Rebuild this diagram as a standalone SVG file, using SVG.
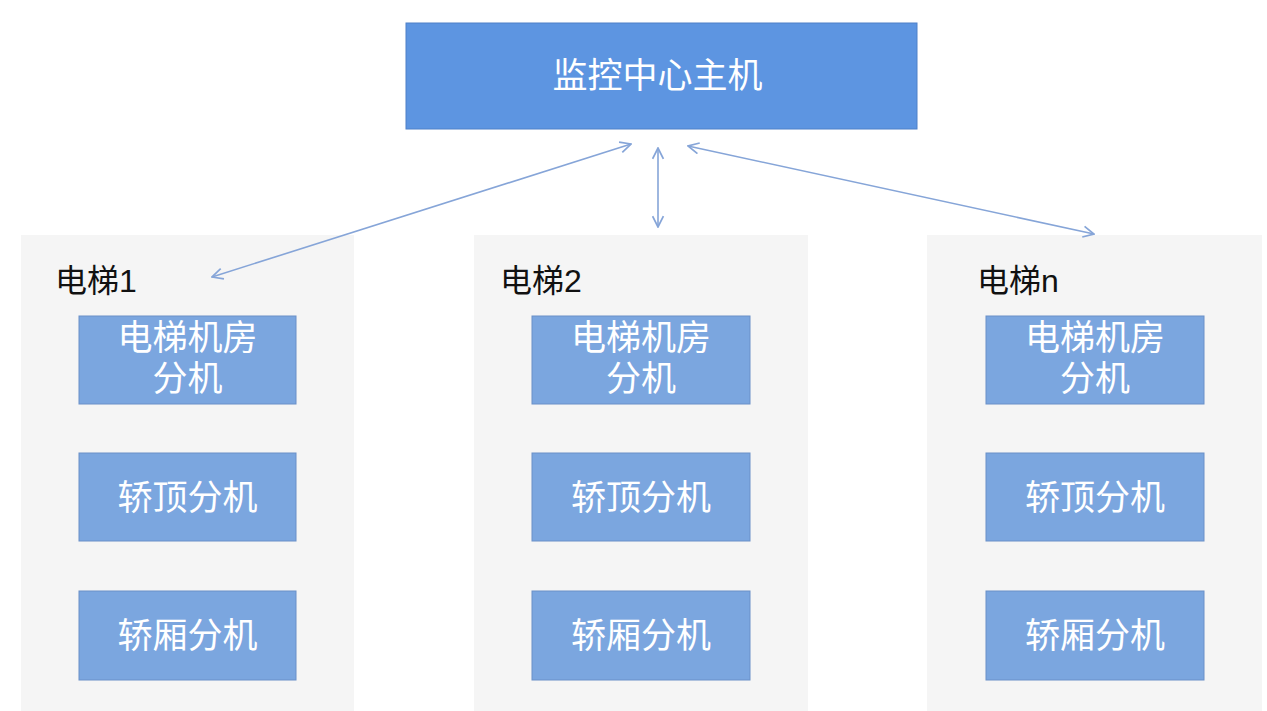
<svg xmlns="http://www.w3.org/2000/svg" width="1267" height="711" viewBox="0 0 1267 711">
<style>
.panel{fill:#F5F5F5}
.top{fill:#5D95E1;stroke:#4F80C8;stroke-width:1}
.sub{fill:#7BA6DF;stroke:#6A90C8;stroke-width:1}
.wt{fill:#FFFFFF;font-family:"Liberation Sans","Noto Sans CJK SC",sans-serif;text-anchor:middle}
.lbl{fill:#111111;font-family:"Liberation Sans","Noto Sans CJK SC",sans-serif;font-size:32px}
.conn{stroke:#86A5D8;stroke-width:1.6;fill:none;marker-start:url(#ah);marker-end:url(#ah)}
</style>
<defs>
<marker id="ah" viewBox="0 0 12 12" refX="11" refY="6" markerWidth="13" markerHeight="13" markerUnits="userSpaceOnUse" orient="auto-start-reverse">
<path d="M1,1 L11,6 L1,11" fill="none" stroke="#86A5D8" stroke-width="1.6"/>
</marker>
</defs>
<rect width="1267" height="711" fill="#FFFFFF"/>
<g id="panel1">
<rect class="panel" x="21" y="235" width="333" height="476"/>
<text class="lbl" x="55" y="292">电梯1</text>
</g>
<g id="panel2">
<rect class="panel" x="474" y="235" width="334" height="476"/>
<text class="lbl" x="500" y="292">电梯2</text>
</g>
<g id="panel3">
<rect class="panel" x="927" y="235" width="335" height="476"/>
<text class="lbl" x="977" y="292">电梯n</text>
</g>
<g id="host">
<rect class="top" x="406" y="23" width="511" height="106"/>
<text class="wt" x="657.500" y="88" font-size="35">监控中心主机</text>
</g>
<g id="e1-room">
<rect class="sub" x="79" y="316" width="217" height="88"/>
<text class="wt" x="187.500" y="350" font-size="35">电梯机房</text>
<text class="wt" x="187.500" y="391" font-size="35">分机</text>
</g>
<g id="e1-top">
<rect class="sub" x="79" y="453" width="217" height="88"/>
<text class="wt" x="187.500" y="510" font-size="35">轿顶分机</text>
</g>
<g id="e1-car">
<rect class="sub" x="79" y="591" width="217" height="89"/>
<text class="wt" x="187.500" y="648" font-size="35">轿厢分机</text>
</g>
<g id="e2-room">
<rect class="sub" x="532" y="316" width="218" height="88"/>
<text class="wt" x="641" y="350" font-size="35">电梯机房</text>
<text class="wt" x="641" y="391" font-size="35">分机</text>
</g>
<g id="e2-top">
<rect class="sub" x="532" y="453" width="218" height="88"/>
<text class="wt" x="641" y="510" font-size="35">轿顶分机</text>
</g>
<g id="e2-car">
<rect class="sub" x="532" y="591" width="218" height="89"/>
<text class="wt" x="641" y="648" font-size="35">轿厢分机</text>
</g>
<g id="en-room">
<rect class="sub" x="986" y="316" width="218" height="88"/>
<text class="wt" x="1095" y="350" font-size="35">电梯机房</text>
<text class="wt" x="1095" y="391" font-size="35">分机</text>
</g>
<g id="en-top">
<rect class="sub" x="986" y="453" width="218" height="88"/>
<text class="wt" x="1095" y="510" font-size="35">轿顶分机</text>
</g>
<g id="en-car">
<rect class="sub" x="986" y="591" width="218" height="89"/>
<text class="wt" x="1095" y="648" font-size="35">轿厢分机</text>
</g>
<g id="connectors">
<line class="conn" x1="212" y1="277" x2="631" y2="144"/>
<line class="conn" x1="658" y1="148" x2="658" y2="227"/>
<line class="conn" x1="688" y1="146" x2="1094" y2="234"/>
</g>
</svg>
